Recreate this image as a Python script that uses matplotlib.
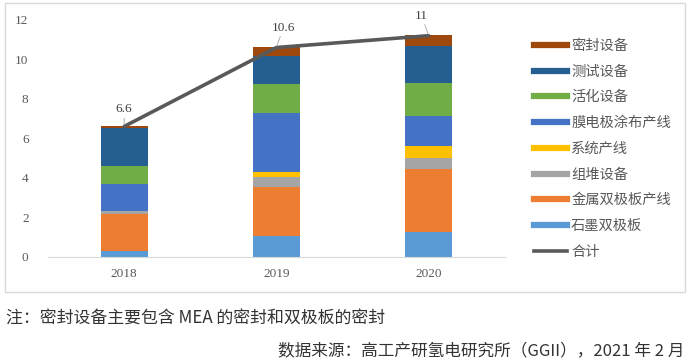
import matplotlib.pyplot as plt
from matplotlib.lines import Line2D
from matplotlib.patches import Rectangle
import numpy as np

plt.rcParams['font.family'] = ['Noto Sans CJK SC', 'DejaVu Sans']

years = ['2018', '2019', '2020']
# 自下而上的堆叠顺序
series = ['石墨双极板', '金属双极板产线', '组堆设备', '系统产线',
          '膜电极涂布产线', '活化设备', '测试设备', '密封设备']
shimo = [0.30, 1.05, 1.24]
jinshu = [1.85, 2.48, 3.19]
zudui = [0.17, 0.51, 0.57]
xitong = [0.00, 0.23, 0.62]
mo = [1.37, 3.02, 1.52]
huohua = [0.91, 1.47, 1.67]
ceshi = [1.91, 1.42, 1.86]
mifeng = [0.10, 0.45, 0.59]
total = [6.6, 10.6, 11.2]
total_labels = ['6.6', '10.6', '11']

colors = ['#5B9BD5', '#ED7D31', '#A5A5A5', '#FFC000',
          '#4472C4', '#70AD47', '#255E91', '#9E480E']
line_color = '#595959'


def main():
    fig = plt.figure(figsize=(6.9, 3.62), dpi=100)
    ax = fig.add_axes([0.0696, 0.291, 0.662, 0.654])

    # 外框
    fig.patches.append(Rectangle((5 / 690, 1 - 292 / 362), 680 / 690, 289 / 362,
                                 transform=fig.transFigure, fill=False,
                                 edgecolor='#D9D9D9', linewidth=1))

    x = np.arange(len(years))
    data = [shimo, jinshu, zudui, xitong, mo, huohua, ceshi, mifeng]
    bottom = np.zeros(len(years))
    for vals, c in zip(data, colors):
        ax.bar(x, vals, 0.31, bottom=bottom, color=c, zorder=2)
        bottom += np.array(vals)

    ax.plot(x, total, color=line_color, linewidth=2.6, zorder=3, solid_capstyle='round')

    offsets = [(0, 8), (5, 10), (-5, 10)]
    for xi, t, lab, off in zip(x, total, total_labels, offsets):
        ax.annotate(lab, (xi, t), xytext=off, textcoords='offset points',
                    ha='center', va='bottom', fontsize=9.5, color='#404040',
                    family=['Liberation Serif'], annotation_clip=False,
                    arrowprops=dict(arrowstyle='-', color='#A0A0A0', lw=0.6,
                                    shrinkA=0, shrinkB=1))

    ax.set_xlim(-0.5, 2.5)
    ax.set_ylim(0, 12)
    ax.set_yticks(range(0, 13, 2))
    ax.set_xticks(x)
    ax.set_xticklabels(years)
    for lab in ax.get_xticklabels() + ax.get_yticklabels():
        lab.set_family(['Liberation Serif'])
        lab.set_fontsize(9.5)
        lab.set_color('#595959')
    ax.tick_params(length=0)
    ax.tick_params(axis='y', pad=14)
    ax.tick_params(axis='x', pad=8)
    for s in ['top', 'right', 'left']:
        ax.spines[s].set_visible(False)
    ax.spines['bottom'].set_color('#D9D9D9')

    handles = [Line2D([], [], color=c, linewidth=4.5) for c in colors[::-1]]
    handles.append(Line2D([], [], color=line_color, linewidth=2.6))
    labels = series[::-1] + ['合计']
    leg = fig.legend(handles, labels, loc='upper left',
                     bbox_to_anchor=(521 / 690, 1 - 26 / 362),
                     frameon=False, fontsize=10.3, handlelength=2.3,
                     handletextpad=0.3, labelspacing=0.82)
    for t in leg.get_texts():
        t.set_color('#595959')

    fig.text(6 / 690, 1 - 318 / 362, '注：密封设备主要包含 MEA 的密封和双极板的密封',
             fontsize=12.2, color='#333333', va='center', style='italic')
    fig.text(684 / 690, 1 - 351 / 362, '数据来源：高工产研氢电研究所（GGII），2021 年 2 月',
             fontsize=12, color='#333333', va='center', ha='right', style='italic')

    fig.savefig('out.png', dpi=100)


if __name__ == "__main__":
    main()
